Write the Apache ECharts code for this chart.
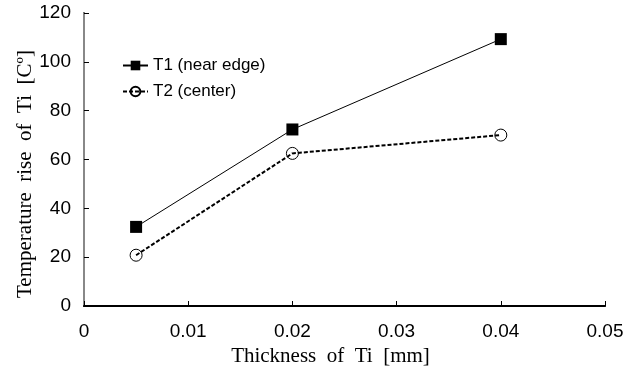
<!DOCTYPE html>
<html><head><meta charset="utf-8">
<script src="https://cdn.jsdelivr.net/npm/echarts@6/dist/echarts.min.js"></script>
<style>html,body{margin:0;padding:0;background:#fff}#c{width:638px;height:373px}</style>
</head><body><div id="c"></div>
<script>
const thickness = [0.005, 0.02, 0.04];
const t1 = [32.4, 72.3, 109.3];
const t2 = [20.8, 62.5, 70.0];
const xTicks = [0, 0.01, 0.02, 0.03, 0.04, 0.05];
const yTicks = [0, 20, 40, 60, 80, 100, 120];
const seriesNames = ['T1 (near edge)', 'T2 (center)'];
const xName = 'Thickness  of  Ti  [mm]';
const yName = 'Temperature  rise  of  Ti  [Cº]';

const chart = echarts.init(document.getElementById('c'));
const tickFont = {fontFamily: 'Liberation Sans', fontSize: 19, color: '#000'};
chart.setOption({
  animation: false,
  backgroundColor: '#fff',
  grid: {left: 84, right: 33, top: 13, bottom: 67, containLabel: false},
  legend: {
    left: 117, top: 52, orient: 'vertical', itemGap: 9,
    itemWidth: 25, itemHeight: 12,
    textStyle: {fontFamily: 'Liberation Sans', fontSize: 17, color: '#000'},
    data: seriesNames
  },
  graphic: [{
    type: 'text', x: 25, y: 174, rotation: Math.PI / 2,
    style: {text: yName, fontFamily: 'Liberation Serif', fontSize: 21, fill: '#000',
            align: 'center', verticalAlign: 'middle'}
  }],
  xAxis: [{
    type: 'value', min: xTicks[0], max: xTicks[xTicks.length-1], interval: 0.01,
    name: xName, nameLocation: 'middle', nameGap: 40,
    nameTextStyle: {fontFamily: 'Liberation Serif', fontSize: 21, color: '#000', padding: [0, 28, 0, 0]},
    axisLine: {lineStyle: {color: '#000', width: 2}},
    axisTick: {inside: true, length: 5, lineStyle: {color: '#000', width: 1}},
    axisLabel: Object.assign({margin: 16, formatter: v => String(+v.toFixed(2))}, tickFont),
    splitLine: {show: false}
  }, {
    type: 'value', position: 'top', min: 0, max: 0.05,
    axisLine: {show: true, lineStyle: {color: '#000', width: 1}},
    axisTick: {show: false}, axisLabel: {show: false}, splitLine: {show: false}
  }],
  yAxis: [{
    type: 'value', min: yTicks[0], max: yTicks[yTicks.length-1], interval: 20,
    axisLine: {show: true, lineStyle: {color: '#000', width: 2}},
    axisTick: {show: true, inside: true, length: 5, lineStyle: {color: '#000', width: 1}},
    axisLabel: Object.assign({margin: 13}, tickFont),
    splitLine: {show: false}
  }, {
    type: 'value', position: 'right', min: 0, max: 120,
    axisLine: {show: true, lineStyle: {color: '#888', width: 2}},
    axisTick: {show: false}, axisLabel: {show: false}, splitLine: {show: false}
  }],
  series: [{
    name: seriesNames[0], type: 'line',
    data: thickness.map((x, i) => [x, t1[i]]),
    symbol: 'rect', symbolSize: 12,
    itemStyle: {color: '#000'},
    lineStyle: {color: '#000', width: 1}
  }, {
    name: seriesNames[1], type: 'line',
    data: thickness.map((x, i) => [x, t2[i]]),
    symbol: 'circle', symbolSize: 12,
    itemStyle: {color: 'rgba(255,255,255,0)', borderColor: '#000', borderWidth: 1},
    lineStyle: {color: '#000', width: 2, type: [4, 2]}
  }]
});
</script></body></html>
